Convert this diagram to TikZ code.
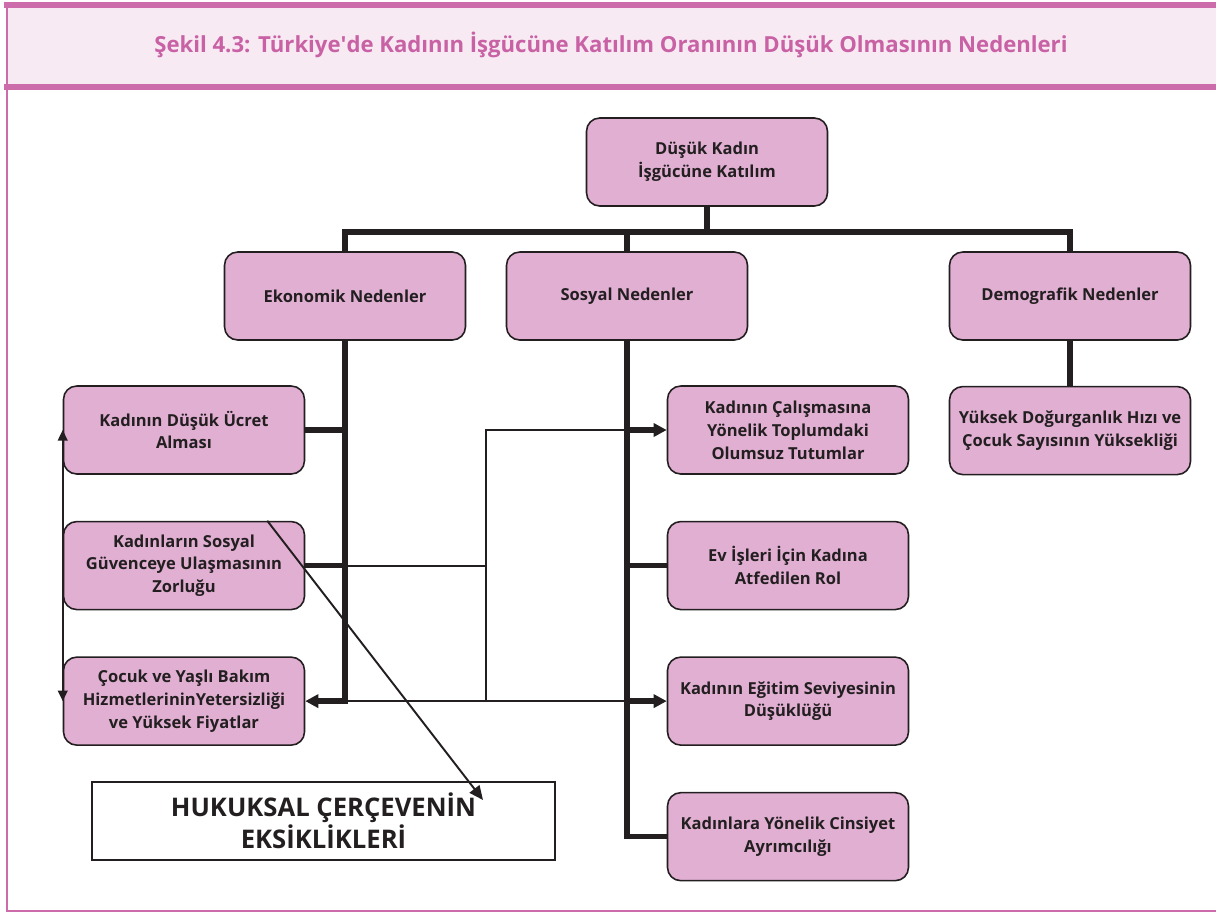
\documentclass[tikz,border=0pt]{standalone}
\usepackage{fontspec}
\setmainfont{Open Sans}
\usetikzlibrary{arrows.meta,positioning,calc}
\definecolor{cercevepembe}{HTML}{CC6CAB}
\definecolor{baslikzemin}{HTML}{F8EAF3}
\definecolor{baslikyazi}{HTML}{C862A5}
\definecolor{kutupembe}{HTML}{E0AFD2}
\definecolor{koyu}{HTML}{231F20}

\begin{document}
\begin{tikzpicture}[x=0.02cm, y=-0.02cm, node distance=0.92cm,
  kutu/.style={draw=koyu, line width=0.9pt, rounded corners=7.5pt, fill=kutupembe,
    minimum width=4.82cm, minimum height=1.76cm, align=center, text=koyu,
    font=\bfseries\fontsize{9.4pt}{13pt}\selectfont},
  kalin/.style={draw=koyu, line width=3.1pt},
  ince/.style={draw=koyu, line width=1.1pt},
  ok/.style={-{Triangle[length=7.5pt,width=7.5pt]}}]
  \useasboundingbox (0,0) rectangle (1216,913);

  % cerceve ve baslik
  \fill[baslikzemin] (7,5) rectangle (1216,87);
  \draw[cercevepembe, line width=3pt] (4,5) -- (1216,5);
  \draw[cercevepembe, line width=3pt] (4,87) -- (1216,87);
  \draw[cercevepembe, line width=1pt] (7,4) -- (7,911) -- (1216,911);
  \draw[cercevepembe, line width=1.6pt] (7,911) -- (1216,911);
  \node[text=baslikyazi, font=\bfseries\fontsize{12.6pt}{14pt}\selectfont] (baslik) at (611,45)
    {Şekil 4.3: Türkiye\textquotesingle de Kadının İşgücüne Katılım Oranının Düşük Olmasının Nedenleri};

  % kutular
  \node[kutu] (kfk) at (707,162) {Düşük Kadın\\İşgücüne Katılım};
  \node[kutu] (ekon) at (345,296) {Ekonomik Nedenler};
  \node[kutu] (sosyal) at (627,296) {Sosyal Nedenler};
  \node[kutu] (demog) at (1070,296) {Demografik Nedenler};
  \node[kutu, below=0.9cm of demog] (dogurganlik) {Yüksek Doğurganlık Hızı ve\\Çocuk Sayısının Yüksekliği};
  \node[kutu] (ucret) at (184,430) {Kadının Düşük Ücret\\Alması};
  \node[kutu, below=of ucret] (guvence) {Kadınların Sosyal\\Güvenceye Ulaşmasının\\Zorluğu};
  \node[kutu, below=of guvence] (bakim) {Çocuk ve Yaşlı Bakım\\HizmetlerininYetersizliği\\ve Yüksek Fiyatlar};
  \node[kutu] (calisma) at (788,430) {Kadının Çalışmasına\\Yönelik Toplumdaki\\Olumsuz Tutumlar};
  \node[kutu, below=of calisma] (evisleri) {Ev İşleri İçin Kadına\\Atfedilen Rol};
  \node[kutu, below=of evisleri] (egitim) {Kadının Eğitim Seviyesinin\\Düşüklüğü};
  \node[kutu, below=of egitim] (cinsiyet) {Kadınlara Yönelik Cinsiyet\\Ayrımcılığı};
  \node[draw=koyu, line width=1pt, fill=white, minimum width=9.26cm, minimum height=1.56cm,
    align=center, text=koyu, font=\bfseries\fontsize{14.6pt}{18pt}\selectfont]
    (hukuk) at (323.5,821) {HUKUKSAL ÇERÇEVENİN\\EKSİKLİKLERİ};

  \coordinate (bus) at ($(kfk.south)+(0,25)$);
  \coordinate (kavsak) at ($(ekon.south)!0.5!(sosyal.south)$);
  \coordinate (hukukok) at (483,800);

  % ust baglantilar
  \draw[kalin] (kfk.south) -- (bus);
  \draw[kalin] (ekon.north) -- (ekon.north |- bus) -- (demog.north |- bus) -- (demog.north);
  \draw[kalin] (sosyal.north) -- (sosyal.north |- bus);
  \draw[kalin] (demog.south) -- (dogurganlik.north);

  % ekonomik nedenler
  \draw[kalin, ok] (ekon.south) |- (bakim.east);
  \draw[kalin] (ucret.east) -- (ucret.east -| ekon.south);
  \draw[kalin] (guvence.east) -- (guvence.east -| ekon.south);

  % sosyal nedenler
  \draw[kalin] (sosyal.south) |- (cinsiyet.west);
  \draw[kalin, ok] (calisma.west -| sosyal.south) -- (calisma.west);
  \draw[kalin] (evisleri.west -| sosyal.south) -- (evisleri.west);
  \draw[kalin, ok] (egitim.west -| sosyal.south) -- (egitim.west);

  % ince baglantilar
  \draw[ince] (guvence.east -| ekon.south) -- (guvence.east -| kavsak);
  \draw[ince] (calisma.west -| sosyal.south) -| (bakim.east -| kavsak);
  \draw[ince] (bakim.east -| ekon.south) -- (egitim.west -| sosyal.south);
  \draw[ince, {Triangle[length=6pt,width=5.5pt]}-{Triangle[length=6pt,width=5.5pt]}] (ucret.west) -- (bakim.west);
  \draw[ince, -{Triangle[length=8pt,width=7pt]}] ($(guvence.north east)+(-38,0)$) -- (hukukok);
\end{tikzpicture}
\end{document}
